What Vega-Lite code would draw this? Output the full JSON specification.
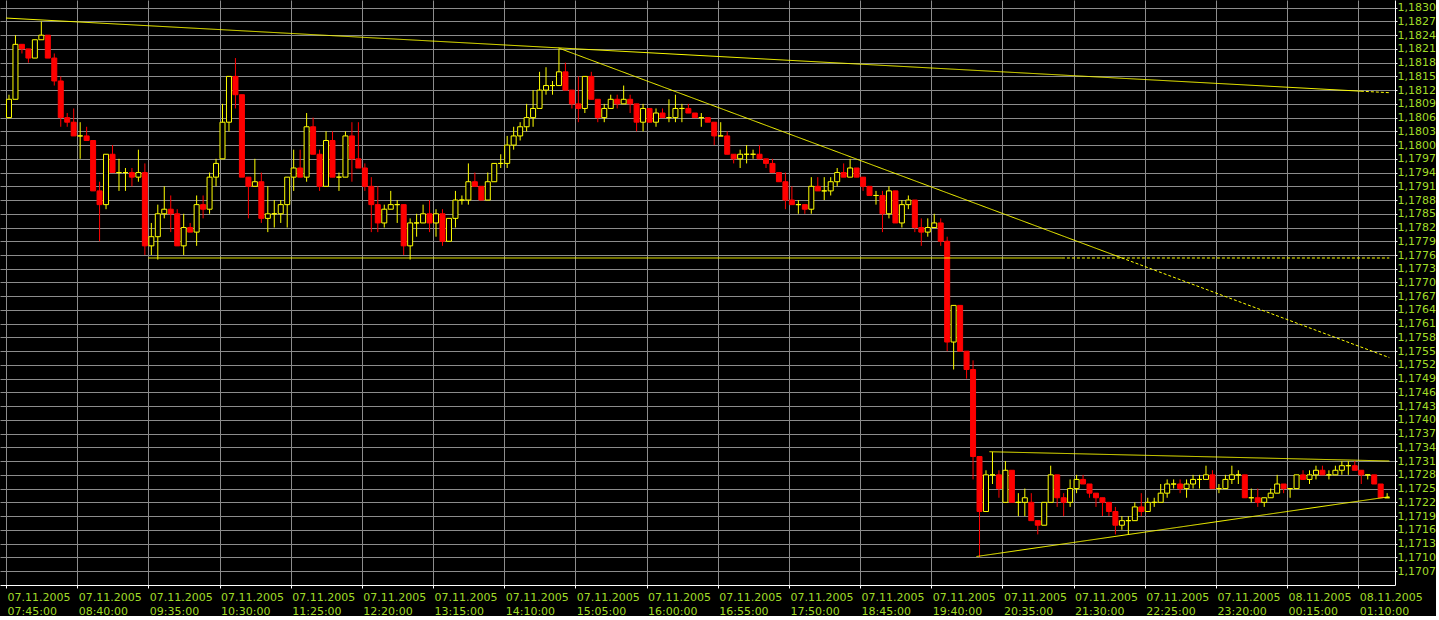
{
"$schema":"https://vega.github.io/schema/vega-lite/v6.json",
"width":1395,"height":585,"padding":0,"background":"#000000",
"config":{"view":{"stroke":null},
"axis":{"domainColor":"#ffffff","domainWidth":1,"tickColor":"#ffffff","gridColor":"#8c8c8c","gridOpacity":1,"gridWidth":1,"labelFont":"DejaVu Sans","labelFontSize":11,"labelColor":"#a0dc28","title":null}},
"datasets":{
"candles":[
{"t":"2005-11-07T07:45","o":1.1806,"h":1.1811,"l":1.1806,"c":1.1810},
{"t":"2005-11-07T07:50","o":1.1810,"h":1.1824,"l":1.1810,"c":1.1822},
{"t":"2005-11-07T07:55","o":1.1822,"h":1.1822,"l":1.1820,"c":1.1821},
{"t":"2005-11-07T08:00","o":1.1821,"h":1.1821,"l":1.1818,"c":1.1819},
{"t":"2005-11-07T08:05","o":1.1819,"h":1.1823,"l":1.1819,"c":1.1823},
{"t":"2005-11-07T08:10","o":1.1823,"h":1.1827,"l":1.1823,"c":1.1824},
{"t":"2005-11-07T08:15","o":1.1824,"h":1.1824,"l":1.1819,"c":1.1819},
{"t":"2005-11-07T08:20","o":1.1819,"h":1.1820,"l":1.1813,"c":1.1814},
{"t":"2005-11-07T08:25","o":1.1814,"h":1.1815,"l":1.1804,"c":1.1806},
{"t":"2005-11-07T08:30","o":1.1806,"h":1.1807,"l":1.1804,"c":1.1805},
{"t":"2005-11-07T08:35","o":1.1805,"h":1.1808,"l":1.1802,"c":1.1802},
{"t":"2005-11-07T08:40","o":1.1802,"h":1.1805,"l":1.1797,"c":1.1802},
{"t":"2005-11-07T08:45","o":1.1802,"h":1.1804,"l":1.1801,"c":1.1801},
{"t":"2005-11-07T08:50","o":1.1801,"h":1.1801,"l":1.1790,"c":1.1790},
{"t":"2005-11-07T08:55","o":1.1790,"h":1.1792,"l":1.1779,"c":1.1787},
{"t":"2005-11-07T09:00","o":1.1787,"h":1.1798,"l":1.1786,"c":1.1798},
{"t":"2005-11-07T09:05","o":1.1798,"h":1.1800,"l":1.1794,"c":1.1794},
{"t":"2005-11-07T09:10","o":1.1794,"h":1.1797,"l":1.1790,"c":1.1794},
{"t":"2005-11-07T09:15","o":1.1794,"h":1.1795,"l":1.1790,"c":1.1794},
{"t":"2005-11-07T09:20","o":1.1794,"h":1.1795,"l":1.1791,"c":1.1793},
{"t":"2005-11-07T09:25","o":1.1793,"h":1.1799,"l":1.1792,"c":1.1794},
{"t":"2005-11-07T09:30","o":1.1794,"h":1.1796,"l":1.1776,"c":1.1778},
{"t":"2005-11-07T09:35","o":1.1778,"h":1.1783,"l":1.1776,"c":1.1780},
{"t":"2005-11-07T09:40","o":1.1780,"h":1.1787,"l":1.1775,"c":1.1785},
{"t":"2005-11-07T09:45","o":1.1785,"h":1.1791,"l":1.1784,"c":1.1786},
{"t":"2005-11-07T09:50","o":1.1786,"h":1.1789,"l":1.1781,"c":1.1785},
{"t":"2005-11-07T09:55","o":1.1785,"h":1.1786,"l":1.1778,"c":1.1778},
{"t":"2005-11-07T10:00","o":1.1778,"h":1.1785,"l":1.1776,"c":1.1782},
{"t":"2005-11-07T10:05","o":1.1782,"h":1.1783,"l":1.1781,"c":1.1781},
{"t":"2005-11-07T10:10","o":1.1781,"h":1.1789,"l":1.1778,"c":1.1787},
{"t":"2005-11-07T10:15","o":1.1787,"h":1.1789,"l":1.1784,"c":1.1786},
{"t":"2005-11-07T10:20","o":1.1786,"h":1.1794,"l":1.1785,"c":1.1793},
{"t":"2005-11-07T10:25","o":1.1793,"h":1.1797,"l":1.1791,"c":1.1796},
{"t":"2005-11-07T10:30","o":1.1797,"h":1.1809,"l":1.1797,"c":1.1805},
{"t":"2005-11-07T10:35","o":1.1805,"h":1.1815,"l":1.1803,"c":1.1815},
{"t":"2005-11-07T10:40","o":1.1815,"h":1.1819,"l":1.1808,"c":1.1811},
{"t":"2005-11-07T10:45","o":1.1811,"h":1.1811,"l":1.1793,"c":1.1793},
{"t":"2005-11-07T10:50","o":1.1793,"h":1.1793,"l":1.1784,"c":1.1791},
{"t":"2005-11-07T10:55","o":1.1791,"h":1.1797,"l":1.1791,"c":1.1792},
{"t":"2005-11-07T11:00","o":1.1792,"h":1.1794,"l":1.1783,"c":1.1784},
{"t":"2005-11-07T11:05","o":1.1784,"h":1.1791,"l":1.1781,"c":1.1785},
{"t":"2005-11-07T11:10","o":1.1785,"h":1.1788,"l":1.1782,"c":1.1785},
{"t":"2005-11-07T11:15","o":1.1785,"h":1.1788,"l":1.1783,"c":1.1787},
{"t":"2005-11-07T11:20","o":1.1787,"h":1.1793,"l":1.1782,"c":1.1793},
{"t":"2005-11-07T11:25","o":1.1793,"h":1.1799,"l":1.1790,"c":1.1795},
{"t":"2005-11-07T11:30","o":1.1795,"h":1.1799,"l":1.1793,"c":1.1793},
{"t":"2005-11-07T11:35","o":1.1793,"h":1.1807,"l":1.1792,"c":1.1804},
{"t":"2005-11-07T11:40","o":1.1804,"h":1.1806,"l":1.1798,"c":1.1798},
{"t":"2005-11-07T11:45","o":1.1798,"h":1.1799,"l":1.1790,"c":1.1791},
{"t":"2005-11-07T11:50","o":1.1791,"h":1.1803,"l":1.1791,"c":1.1801},
{"t":"2005-11-07T11:55","o":1.1801,"h":1.1803,"l":1.1793,"c":1.1793},
{"t":"2005-11-07T12:00","o":1.1793,"h":1.1794,"l":1.1790,"c":1.1793},
{"t":"2005-11-07T12:05","o":1.1793,"h":1.1803,"l":1.1793,"c":1.1802},
{"t":"2005-11-07T12:10","o":1.1802,"h":1.1805,"l":1.1792,"c":1.1797},
{"t":"2005-11-07T12:15","o":1.1797,"h":1.1805,"l":1.1795,"c":1.1795},
{"t":"2005-11-07T12:20","o":1.1795,"h":1.1796,"l":1.1790,"c":1.1791},
{"t":"2005-11-07T12:25","o":1.1791,"h":1.1793,"l":1.1781,"c":1.1787},
{"t":"2005-11-07T12:30","o":1.1787,"h":1.1791,"l":1.1781,"c":1.1783},
{"t":"2005-11-07T12:35","o":1.1783,"h":1.1787,"l":1.1782,"c":1.1786},
{"t":"2005-11-07T12:40","o":1.1786,"h":1.1790,"l":1.1786,"c":1.1787},
{"t":"2005-11-07T12:45","o":1.1787,"h":1.1788,"l":1.1783,"c":1.1787},
{"t":"2005-11-07T12:50","o":1.1787,"h":1.1787,"l":1.1776,"c":1.1778},
{"t":"2005-11-07T12:55","o":1.1778,"h":1.1784,"l":1.1775,"c":1.1783},
{"t":"2005-11-07T13:00","o":1.1783,"h":1.1785,"l":1.1780,"c":1.1783},
{"t":"2005-11-07T13:05","o":1.1783,"h":1.1787,"l":1.1783,"c":1.1785},
{"t":"2005-11-07T13:10","o":1.1785,"h":1.1788,"l":1.1781,"c":1.1783},
{"t":"2005-11-07T13:15","o":1.1783,"h":1.1786,"l":1.1780,"c":1.1785},
{"t":"2005-11-07T13:20","o":1.1785,"h":1.1786,"l":1.1778,"c":1.1779},
{"t":"2005-11-07T13:25","o":1.1779,"h":1.1784,"l":1.1779,"c":1.1784},
{"t":"2005-11-07T13:30","o":1.1784,"h":1.1790,"l":1.1782,"c":1.1788},
{"t":"2005-11-07T13:35","o":1.1788,"h":1.1789,"l":1.1787,"c":1.1788},
{"t":"2005-11-07T13:40","o":1.1788,"h":1.1796,"l":1.1787,"c":1.1792},
{"t":"2005-11-07T13:45","o":1.1792,"h":1.1794,"l":1.1791,"c":1.1791},
{"t":"2005-11-07T13:50","o":1.1791,"h":1.1791,"l":1.1788,"c":1.1788},
{"t":"2005-11-07T13:55","o":1.1788,"h":1.1794,"l":1.1788,"c":1.1792},
{"t":"2005-11-07T14:00","o":1.1792,"h":1.1796,"l":1.1792,"c":1.1796},
{"t":"2005-11-07T14:05","o":1.1796,"h":1.1798,"l":1.1795,"c":1.1796},
{"t":"2005-11-07T14:10","o":1.1796,"h":1.1802,"l":1.1795,"c":1.1800},
{"t":"2005-11-07T14:15","o":1.1800,"h":1.1804,"l":1.1799,"c":1.1802},
{"t":"2005-11-07T14:20","o":1.1802,"h":1.1805,"l":1.1801,"c":1.1804},
{"t":"2005-11-07T14:25","o":1.1804,"h":1.1809,"l":1.1803,"c":1.1806},
{"t":"2005-11-07T14:30","o":1.1806,"h":1.1812,"l":1.1804,"c":1.1808},
{"t":"2005-11-07T14:35","o":1.1808,"h":1.1816,"l":1.1808,"c":1.1812},
{"t":"2005-11-07T14:40","o":1.1812,"h":1.1817,"l":1.1811,"c":1.1813},
{"t":"2005-11-07T14:45","o":1.1813,"h":1.1814,"l":1.1811,"c":1.1813},
{"t":"2005-11-07T14:50","o":1.1813,"h":1.1821,"l":1.1813,"c":1.1816},
{"t":"2005-11-07T14:55","o":1.1816,"h":1.1818,"l":1.1812,"c":1.1812},
{"t":"2005-11-07T15:00","o":1.1812,"h":1.1812,"l":1.1808,"c":1.1809},
{"t":"2005-11-07T15:05","o":1.1809,"h":1.1815,"l":1.1805,"c":1.1808},
{"t":"2005-11-07T15:10","o":1.1808,"h":1.1815,"l":1.1807,"c":1.1815},
{"t":"2005-11-07T15:15","o":1.1815,"h":1.1816,"l":1.1810,"c":1.1810},
{"t":"2005-11-07T15:20","o":1.1810,"h":1.1810,"l":1.1805,"c":1.1806},
{"t":"2005-11-07T15:25","o":1.1806,"h":1.1809,"l":1.1805,"c":1.1808},
{"t":"2005-11-07T15:30","o":1.1808,"h":1.1811,"l":1.1808,"c":1.1810},
{"t":"2005-11-07T15:35","o":1.1810,"h":1.1811,"l":1.1808,"c":1.1809},
{"t":"2005-11-07T15:40","o":1.1809,"h":1.1813,"l":1.1809,"c":1.1810},
{"t":"2005-11-07T15:45","o":1.1810,"h":1.1811,"l":1.1807,"c":1.1809},
{"t":"2005-11-07T15:50","o":1.1809,"h":1.1809,"l":1.1803,"c":1.1805},
{"t":"2005-11-07T15:55","o":1.1805,"h":1.1809,"l":1.1803,"c":1.1808},
{"t":"2005-11-07T16:00","o":1.1808,"h":1.1808,"l":1.1805,"c":1.1805},
{"t":"2005-11-07T16:05","o":1.1805,"h":1.1808,"l":1.1804,"c":1.1807},
{"t":"2005-11-07T16:10","o":1.1807,"h":1.1808,"l":1.1806,"c":1.1806},
{"t":"2005-11-07T16:15","o":1.1806,"h":1.1810,"l":1.1805,"c":1.1806},
{"t":"2005-11-07T16:20","o":1.1806,"h":1.1811,"l":1.1805,"c":1.1808},
{"t":"2005-11-07T16:25","o":1.1808,"h":1.1809,"l":1.1805,"c":1.1808},
{"t":"2005-11-07T16:30","o":1.1808,"h":1.1809,"l":1.1807,"c":1.1807},
{"t":"2005-11-07T16:35","o":1.1807,"h":1.1807,"l":1.1806,"c":1.1806},
{"t":"2005-11-07T16:40","o":1.1806,"h":1.1807,"l":1.1804,"c":1.1806},
{"t":"2005-11-07T16:45","o":1.1806,"h":1.1806,"l":1.1805,"c":1.1805},
{"t":"2005-11-07T16:50","o":1.1805,"h":1.1805,"l":1.1800,"c":1.1802},
{"t":"2005-11-07T16:55","o":1.1802,"h":1.1805,"l":1.1802,"c":1.1802},
{"t":"2005-11-07T17:00","o":1.1802,"h":1.1803,"l":1.1798,"c":1.1798},
{"t":"2005-11-07T17:05","o":1.1798,"h":1.1798,"l":1.1796,"c":1.1797},
{"t":"2005-11-07T17:10","o":1.1797,"h":1.1799,"l":1.1795,"c":1.1798},
{"t":"2005-11-07T17:15","o":1.1798,"h":1.1800,"l":1.1796,"c":1.1798},
{"t":"2005-11-07T17:20","o":1.1798,"h":1.1799,"l":1.1797,"c":1.1798},
{"t":"2005-11-07T17:25","o":1.1798,"h":1.1800,"l":1.1797,"c":1.1797},
{"t":"2005-11-07T17:30","o":1.1797,"h":1.1797,"l":1.1795,"c":1.1796},
{"t":"2005-11-07T17:35","o":1.1796,"h":1.1797,"l":1.1794,"c":1.1794},
{"t":"2005-11-07T17:40","o":1.1794,"h":1.1794,"l":1.1792,"c":1.1792},
{"t":"2005-11-07T17:45","o":1.1792,"h":1.1794,"l":1.1786,"c":1.1788},
{"t":"2005-11-07T17:50","o":1.1788,"h":1.1791,"l":1.1787,"c":1.1787},
{"t":"2005-11-07T17:55","o":1.1787,"h":1.1788,"l":1.1785,"c":1.1787},
{"t":"2005-11-07T18:00","o":1.1787,"h":1.1787,"l":1.1785,"c":1.1786},
{"t":"2005-11-07T18:05","o":1.1786,"h":1.1793,"l":1.1785,"c":1.1791},
{"t":"2005-11-07T18:10","o":1.1791,"h":1.1793,"l":1.1790,"c":1.1790},
{"t":"2005-11-07T18:15","o":1.1790,"h":1.1793,"l":1.1788,"c":1.1790},
{"t":"2005-11-07T18:20","o":1.1790,"h":1.1793,"l":1.1789,"c":1.1792},
{"t":"2005-11-07T18:25","o":1.1792,"h":1.1795,"l":1.1791,"c":1.1794},
{"t":"2005-11-07T18:30","o":1.1794,"h":1.1796,"l":1.1793,"c":1.1793},
{"t":"2005-11-07T18:35","o":1.1793,"h":1.1797,"l":1.1793,"c":1.1795},
{"t":"2005-11-07T18:40","o":1.1795,"h":1.1795,"l":1.1793,"c":1.1793},
{"t":"2005-11-07T18:45","o":1.1793,"h":1.1793,"l":1.1790,"c":1.1791},
{"t":"2005-11-07T18:50","o":1.1791,"h":1.1791,"l":1.1789,"c":1.1789},
{"t":"2005-11-07T18:55","o":1.1789,"h":1.1790,"l":1.1787,"c":1.1789},
{"t":"2005-11-07T19:00","o":1.1789,"h":1.1790,"l":1.1781,"c":1.1785},
{"t":"2005-11-07T19:05","o":1.1785,"h":1.1791,"l":1.1784,"c":1.1790},
{"t":"2005-11-07T19:10","o":1.1790,"h":1.1790,"l":1.1783,"c":1.1783},
{"t":"2005-11-07T19:15","o":1.1783,"h":1.1788,"l":1.1782,"c":1.1787},
{"t":"2005-11-07T19:20","o":1.1787,"h":1.1789,"l":1.1786,"c":1.1788},
{"t":"2005-11-07T19:25","o":1.1788,"h":1.1788,"l":1.1781,"c":1.1782},
{"t":"2005-11-07T19:30","o":1.1782,"h":1.1784,"l":1.1778,"c":1.1781},
{"t":"2005-11-07T19:35","o":1.1781,"h":1.1784,"l":1.1780,"c":1.1782},
{"t":"2005-11-07T19:40","o":1.1782,"h":1.1785,"l":1.1782,"c":1.1783},
{"t":"2005-11-07T19:45","o":1.1783,"h":1.1784,"l":1.1778,"c":1.1779},
{"t":"2005-11-07T19:50","o":1.1779,"h":1.1780,"l":1.1755,"c":1.1757},
{"t":"2005-11-07T19:55","o":1.1757,"h":1.1765,"l":1.1751,"c":1.1765},
{"t":"2005-11-07T20:00","o":1.1765,"h":1.1765,"l":1.1755,"c":1.1755},
{"t":"2005-11-07T20:05","o":1.1755,"h":1.1755,"l":1.1749,"c":1.1751},
{"t":"2005-11-07T20:10","o":1.1751,"h":1.1753,"l":1.1727,"c":1.1732},
{"t":"2005-11-07T20:15","o":1.1732,"h":1.1732,"l":1.1710,"c":1.1720},
{"t":"2005-11-07T20:20","o":1.1720,"h":1.1729,"l":1.1720,"c":1.1728},
{"t":"2005-11-07T20:25","o":1.1728,"h":1.1733,"l":1.1726,"c":1.1728},
{"t":"2005-11-07T20:30","o":1.1728,"h":1.1729,"l":1.1723,"c":1.1725},
{"t":"2005-11-07T20:35","o":1.1722,"h":1.1731,"l":1.1722,"c":1.1729},
{"t":"2005-11-07T20:40","o":1.1729,"h":1.1729,"l":1.1722,"c":1.1722},
{"t":"2005-11-07T20:45","o":1.1722,"h":1.1724,"l":1.1719,"c":1.1722},
{"t":"2005-11-07T20:50","o":1.1722,"h":1.1725,"l":1.1719,"c":1.1723},
{"t":"2005-11-07T20:55","o":1.1722,"h":1.1724,"l":1.1718,"c":1.1718},
{"t":"2005-11-07T21:00","o":1.1718,"h":1.1718,"l":1.1715,"c":1.1717},
{"t":"2005-11-07T21:05","o":1.1717,"h":1.1722,"l":1.1717,"c":1.1722},
{"t":"2005-11-07T21:10","o":1.1722,"h":1.1730,"l":1.1722,"c":1.1728},
{"t":"2005-11-07T21:15","o":1.1728,"h":1.1728,"l":1.1721,"c":1.1723},
{"t":"2005-11-07T21:20","o":1.1723,"h":1.1724,"l":1.1719,"c":1.1722},
{"t":"2005-11-07T21:25","o":1.1722,"h":1.1727,"l":1.1721,"c":1.1725},
{"t":"2005-11-07T21:30","o":1.1725,"h":1.1728,"l":1.1724,"c":1.1727},
{"t":"2005-11-07T21:35","o":1.1727,"h":1.1728,"l":1.1726,"c":1.1726},
{"t":"2005-11-07T21:40","o":1.1726,"h":1.1726,"l":1.1723,"c":1.1724},
{"t":"2005-11-07T21:45","o":1.1724,"h":1.1724,"l":1.1721,"c":1.1723},
{"t":"2005-11-07T21:50","o":1.1723,"h":1.1723,"l":1.1719,"c":1.1722},
{"t":"2005-11-07T21:55","o":1.1722,"h":1.1722,"l":1.1719,"c":1.1720},
{"t":"2005-11-07T22:00","o":1.1720,"h":1.1721,"l":1.1715,"c":1.1717},
{"t":"2005-11-07T22:05","o":1.1717,"h":1.1719,"l":1.1716,"c":1.1718},
{"t":"2005-11-07T22:10","o":1.1718,"h":1.1719,"l":1.1715,"c":1.1718},
{"t":"2005-11-07T22:15","o":1.1718,"h":1.1722,"l":1.1718,"c":1.1721},
{"t":"2005-11-07T22:20","o":1.1721,"h":1.1724,"l":1.1719,"c":1.1720},
{"t":"2005-11-07T22:25","o":1.1720,"h":1.1723,"l":1.1720,"c":1.1722},
{"t":"2005-11-07T22:30","o":1.1722,"h":1.1723,"l":1.1721,"c":1.1722},
{"t":"2005-11-07T22:35","o":1.1722,"h":1.1726,"l":1.1722,"c":1.1724},
{"t":"2005-11-07T22:40","o":1.1724,"h":1.1727,"l":1.1723,"c":1.1726},
{"t":"2005-11-07T22:45","o":1.1726,"h":1.1727,"l":1.1725,"c":1.1726},
{"t":"2005-11-07T22:50","o":1.1726,"h":1.1727,"l":1.1724,"c":1.1725},
{"t":"2005-11-07T22:55","o":1.1725,"h":1.1727,"l":1.1723,"c":1.1726},
{"t":"2005-11-07T23:00","o":1.1726,"h":1.1728,"l":1.1725,"c":1.1727},
{"t":"2005-11-07T23:05","o":1.1727,"h":1.1728,"l":1.1725,"c":1.1727},
{"t":"2005-11-07T23:10","o":1.1727,"h":1.1730,"l":1.1727,"c":1.1728},
{"t":"2005-11-07T23:15","o":1.1728,"h":1.1729,"l":1.1725,"c":1.1725},
{"t":"2005-11-07T23:20","o":1.1725,"h":1.1726,"l":1.1724,"c":1.1725},
{"t":"2005-11-07T23:25","o":1.1725,"h":1.1728,"l":1.1725,"c":1.1727},
{"t":"2005-11-07T23:30","o":1.1727,"h":1.1730,"l":1.1726,"c":1.1728},
{"t":"2005-11-07T23:35","o":1.1728,"h":1.1729,"l":1.1726,"c":1.1728},
{"t":"2005-11-07T23:40","o":1.1728,"h":1.1728,"l":1.1723,"c":1.1723},
{"t":"2005-11-07T23:45","o":1.1723,"h":1.1725,"l":1.1722,"c":1.1723},
{"t":"2005-11-07T23:50","o":1.1723,"h":1.1725,"l":1.1721,"c":1.1722},
{"t":"2005-11-07T23:55","o":1.1722,"h":1.1723,"l":1.1721,"c":1.1723},
{"t":"2005-11-08T00:00","o":1.1723,"h":1.1725,"l":1.1723,"c":1.1724},
{"t":"2005-11-08T00:05","o":1.1724,"h":1.1728,"l":1.1724,"c":1.1726},
{"t":"2005-11-08T00:10","o":1.1726,"h":1.1726,"l":1.1724,"c":1.1725},
{"t":"2005-11-08T00:15","o":1.1725,"h":1.1725,"l":1.1723,"c":1.1725},
{"t":"2005-11-08T00:20","o":1.1725,"h":1.1728,"l":1.1725,"c":1.1728},
{"t":"2005-11-08T00:25","o":1.1728,"h":1.1729,"l":1.1727,"c":1.1727},
{"t":"2005-11-08T00:30","o":1.1727,"h":1.1729,"l":1.1726,"c":1.1728},
{"t":"2005-11-08T00:35","o":1.1728,"h":1.1730,"l":1.1727,"c":1.1729},
{"t":"2005-11-08T00:40","o":1.1729,"h":1.1730,"l":1.1728,"c":1.1728},
{"t":"2005-11-08T00:45","o":1.1728,"h":1.1729,"l":1.1727,"c":1.1728},
{"t":"2005-11-08T00:50","o":1.1728,"h":1.1730,"l":1.1728,"c":1.1729},
{"t":"2005-11-08T00:55","o":1.1729,"h":1.1731,"l":1.1728,"c":1.1730},
{"t":"2005-11-08T01:00","o":1.1730,"h":1.1731,"l":1.1728,"c":1.1730},
{"t":"2005-11-08T01:05","o":1.1730,"h":1.1731,"l":1.1729,"c":1.1729},
{"t":"2005-11-08T01:10","o":1.1729,"h":1.1729,"l":1.1726,"c":1.1728},
{"t":"2005-11-08T01:15","o":1.1728,"h":1.1728,"l":1.1727,"c":1.1728},
{"t":"2005-11-08T01:20","o":1.1728,"h":1.1728,"l":1.1726,"c":1.1726},
{"t":"2005-11-08T01:25","o":1.1726,"h":1.1726,"l":1.1723,"c":1.1723},
{"t":"2005-11-08T01:30","o":1.1723,"h":1.1724,"l":1.1723,"c":1.1723}
],
"lines":[
{"id":"L1a","style":"solid","t":"2005-11-07T07:45","p":1.182774},
{"id":"L1a","style":"solid","t":"2005-11-08T01:12","p":1.181177},
{"id":"L1b","style":"dotted","t":"2005-11-08T01:12","p":1.181177},
{"id":"L1b","style":"dotted","t":"2005-11-08T01:34","p":1.181144},
{"id":"L2a","style":"solid","t":"2005-11-07T14:52","p":1.182120},
{"id":"L2a","style":"solid","t":"2005-11-07T22:07","p":1.177539},
{"id":"L2b","style":"dotted","t":"2005-11-07T22:07","p":1.177539},
{"id":"L2b","style":"dotted","t":"2005-11-08T01:34","p":1.175360},
{"id":"Ha","style":"solid","t":"2005-11-07T09:35","p":1.177535},
{"id":"Ha","style":"solid","t":"2005-11-07T21:21","p":1.177535},
{"id":"Hb","style":"dotted","t":"2005-11-07T21:21","p":1.177535},
{"id":"Hb","style":"dotted","t":"2005-11-08T01:34","p":1.177535},
{"id":"T1","style":"solid","t":"2005-11-07T20:25","p":1.173305},
{"id":"T1","style":"solid","t":"2005-11-08T01:34","p":1.173103},
{"id":"T2","style":"solid","t":"2005-11-07T20:15","p":1.171017},
{"id":"T2","style":"solid","t":"2005-11-08T01:34","p":1.172323}
]},
"layer":[
{"data":{"name":"candles"},
 "mark":{"type":"rule","xOffset":3,"strokeWidth":1},
 "encoding":{
  "x":{"field":"t","type":"temporal",
   "scale":{"domain":[{"year":2005,"month":11,"date":7,"hours":7,"minutes":44,"seconds":14},{"year":2005,"month":11,"date":8,"hours":1,"minutes":34,"seconds":31}],"nice":false},
   "axis":{"orient":"bottom","tickCount":40,"tickSize":3,"labelPadding":3,"labelAlign":"left","labelBaseline":"top","labelLineHeight":14,"labelOffset":1,"labelOverlap":false,"labelFlush":false,"labelBound":false,
    "values":[
     {"year":2005,"month":11,"date":7,"hours":7,"minutes":45},
     {"year":2005,"month":11,"date":7,"hours":8,"minutes":40},
     {"year":2005,"month":11,"date":7,"hours":9,"minutes":35},
     {"year":2005,"month":11,"date":7,"hours":10,"minutes":30},
     {"year":2005,"month":11,"date":7,"hours":11,"minutes":25},
     {"year":2005,"month":11,"date":7,"hours":12,"minutes":20},
     {"year":2005,"month":11,"date":7,"hours":13,"minutes":15},
     {"year":2005,"month":11,"date":7,"hours":14,"minutes":10},
     {"year":2005,"month":11,"date":7,"hours":15,"minutes":5},
     {"year":2005,"month":11,"date":7,"hours":16,"minutes":0},
     {"year":2005,"month":11,"date":7,"hours":16,"minutes":55},
     {"year":2005,"month":11,"date":7,"hours":17,"minutes":50},
     {"year":2005,"month":11,"date":7,"hours":18,"minutes":45},
     {"year":2005,"month":11,"date":7,"hours":19,"minutes":40},
     {"year":2005,"month":11,"date":7,"hours":20,"minutes":35},
     {"year":2005,"month":11,"date":7,"hours":21,"minutes":30},
     {"year":2005,"month":11,"date":7,"hours":22,"minutes":25},
     {"year":2005,"month":11,"date":7,"hours":23,"minutes":20},
     {"year":2005,"month":11,"date":8,"hours":0,"minutes":15},
     {"year":2005,"month":11,"date":8,"hours":1,"minutes":10}],
    "labelExpr":"[timeFormat(datum.value, '%d.%m.%Y'), timeFormat(datum.value, '%H:%M:%S')]"}},
  "y":{"field":"l","type":"quantitative",
   "scale":{"domain":[1.170395,1.183168],"nice":false,"zero":false},
   "axis":{"orient":"right","tickCount":100,"tickSize":2,"labelPadding":0,
    "values":[1.1707,1.1710,1.1713,1.1716,1.1719,1.1722,1.1725,1.1728,1.1731,1.1734,1.1737,1.1740,1.1743,1.1746,1.1749,1.1752,1.1755,1.1758,1.1761,1.1764,1.1767,1.1770,1.1773,1.1776,1.1779,1.1782,1.1785,1.1788,1.1791,1.1794,1.1797,1.1800,1.1803,1.1806,1.1809,1.1812,1.1815,1.1818,1.1821,1.1824,1.1827,1.1830],
    "labelOverlap":false,"labelFlush":false,"labelBound":false,
    "labelExpr":"replace(format(datum.value, '.4f'), '.', ',')"}},
  "y2":{"field":"h"},
  "color":{"condition":{"test":"datum.c >= datum.o","value":"#ffff00"},"value":"#ff0000"}}},
{"data":{"name":"candles"},
 "mark":{"type":"bar","xOffset":3,"width":5,"strokeWidth":1},
 "encoding":{
  "x":{"field":"t","type":"temporal"},
  "y":{"field":"o","type":"quantitative"},
  "y2":{"field":"c"},
  "fill":{"condition":{"test":"datum.c >= datum.o","value":"#000000"},"value":"#ff0000"},
  "stroke":{"condition":{"test":"datum.c >= datum.o","value":"#ffff00"},"value":"#ff0000"}}},
{"data":{"name":"lines"},
 "mark":{"type":"line","strokeWidth":1,"color":"#ffff00","clip":true},
 "encoding":{
  "x":{"field":"t","type":"temporal"},
  "y":{"field":"p","type":"quantitative"},
  "detail":{"field":"id","type":"nominal"},
  "strokeDash":{"field":"style","type":"nominal","scale":{"domain":["solid","dotted"],"range":[[1,0],[3,2]]},"legend":null}}}
]
}
